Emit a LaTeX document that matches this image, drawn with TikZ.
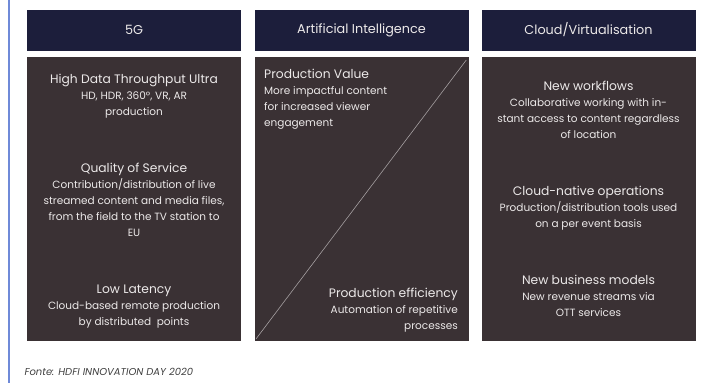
\documentclass[tikz,border=0pt]{standalone}
\usepackage{fontspec}
\setmainfont{Poppins}
\usepackage{tikz}
\usetikzlibrary{positioning, calc}

\definecolor{hdrblue}{HTML}{1C1E3B}
\definecolor{panelgray}{HTML}{3A3134}
\definecolor{txtlight}{HTML}{ECE9E9}
\definecolor{edgeblue}{HTML}{6F8AD8}

\newcommand{\ttl}{\fontsize{12.3}{16}\selectfont}

\begin{document}
\begin{tikzpicture}[x=1pt, y=-1pt,
    hdr/.style={fill=hdrblue, minimum width=214pt, minimum height=41pt, inner sep=0pt, text=txtlight, font=\fontsize{12.8}{14}\selectfont},
    panel/.style={fill=panelgray, minimum width=214pt, minimum height=284pt, inner sep=0pt},
    blk/.style={text=txtlight, align=center, inner sep=0pt, font=\fontsize{10.5}{16}\selectfont}]
                \useasboundingbox (0,0) rectangle (701,383);
                \draw[edgeblue, line width=1.2pt] (9,0) -- (9,383);

                \node[hdr] (h5g) at (134,30) {5G};
                \node[hdr] (hai) at (361.5,30) {Artificial Intelligence};
                \node[hdr] (hcl) at (588.5,30) {Cloud/Virtualisation};

                \node[panel] (p5g) at (134,199) {};
                \node[panel] (pai) at (361.5,199) {};
                \node[panel] (pcl) at (588.5,199) {};

                \draw[txtlight!60!panelgray, line width=0.6pt, shorten <=3pt, shorten >=4pt] (pai.south west) -- (pai.north east);

                \node[blk] (thru) at (134,96) {{\ttl High Data Throughput Ultra}\\HD, HDR, 360°, VR, AR\\production};
                \node[blk] (qos) at (134,200) {{\ttl Quality of Service}\\Contribution/distribution of live\\streamed content and media files,\\from the field to the TV station to\\EU};
                \node[blk] (lat) at (134,307) {{\ttl Low Latency}\\Cloud-based remote production\\by distributed~ points};

                \node[blk, align=left, anchor=north west] (val) at (264,69) {{\ttl Production Value}\\More impactful content\\for increased viewer\\engagement};
                \node[blk, align=right, anchor=north east] (eff) at (458,288) {{\ttl Production efficiency}\\Automation of repetitive\\processes};

                \node[blk] (wrk) at (588.5,110) {{\ttl New workflows}\\Collaborative working with in-\\stant access to content regardless\\of location};
                \node[blk] (nat) at (588.5,208) {{\ttl Cloud-native operations}\\Production/distribution tools used\\on a per event basis};
                \node[blk] (biz) at (588.5,296) {{\ttl New business models}\\New revenue streams via\\OTT services};

                \node[anchor=west, text=black!75, font=\fontsize{10}{12}\selectfont\itshape] (src) at (21,372) {Fonte: HDFI INNOVATION DAY 2020};
            \end{tikzpicture}
\end{document}
